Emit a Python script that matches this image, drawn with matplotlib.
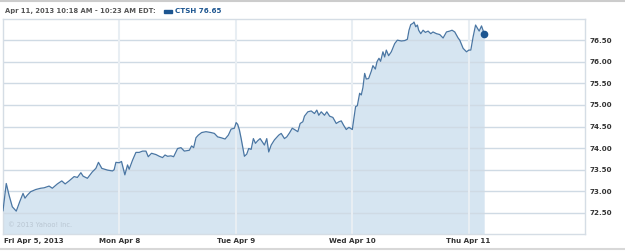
import matplotlib
matplotlib.use("Agg")
import matplotlib.pyplot as plt
import matplotlib.transforms as mtransforms

# CTSH intraday prices, Fri Apr 5 - Thu Apr 11 2013
# t = trading days since Fri open (each session = 1.0)
t = [0.000, 0.028, 0.052, 0.080, 0.114, 0.144, 0.172, 0.189, 0.209, 0.238,
     0.281, 0.324, 0.353, 0.396, 0.424, 0.467, 0.505, 0.534, 0.568, 0.611,
     0.639, 0.669, 0.688, 0.725, 0.768, 0.798, 0.820, 0.849, 0.898, 0.941,
     0.955, 0.970, 0.998, 1.018, 1.047, 1.070, 1.084, 1.113, 1.142, 1.170,
     1.199, 1.228, 1.248, 1.276, 1.314, 1.343, 1.371, 1.392, 1.414, 1.443,
     1.466, 1.500, 1.529, 1.558, 1.601, 1.620, 1.638, 1.658, 1.678, 1.707,
     1.744, 1.787, 1.816, 1.844, 1.873, 1.908, 1.936, 1.960, 1.988, 2.003,
     2.016, 2.031, 2.046, 2.074, 2.094, 2.111, 2.132, 2.151, 2.169, 2.188,
     2.209, 2.226, 2.246, 2.266, 2.283, 2.304, 2.332, 2.369, 2.390, 2.418,
     2.438, 2.461, 2.485, 2.504, 2.533, 2.553, 2.576, 2.590, 2.619, 2.648,
     2.676, 2.696, 2.713, 2.734, 2.762, 2.782, 2.806, 2.834, 2.863, 2.886,
     2.906, 2.926, 2.949, 2.972, 3.001, 3.015, 3.029, 3.044, 3.064, 3.078,
     3.092, 3.107, 3.121, 3.141, 3.164, 3.178, 3.199, 3.213, 3.230, 3.244,
     3.264, 3.279, 3.293, 3.313, 3.336, 3.365, 3.388, 3.423, 3.451, 3.474,
     3.488, 3.503, 3.522, 3.531, 3.546, 3.560, 3.571, 3.589, 3.609, 3.629,
     3.652, 3.675, 3.694, 3.724, 3.752, 3.781, 3.810, 3.838, 3.858, 3.881,
     3.910, 3.924, 3.953, 3.982, 4.002, 4.019, 4.039, 4.060, 4.077, 4.091,
     4.111, 4.134]
price = [72.55, 73.18, 72.91, 72.64, 72.54, 72.76, 72.95, 72.84, 72.91, 72.99,
         73.04, 73.07, 73.08, 73.12, 73.07, 73.17, 73.24, 73.17, 73.24, 73.34,
         73.32, 73.43, 73.35, 73.30, 73.45, 73.53, 73.67, 73.53, 73.49, 73.47,
         73.50, 73.67, 73.66, 73.69, 73.38, 73.61, 73.51, 73.72, 73.90, 73.90,
         73.93, 73.93, 73.80, 73.88, 73.85, 73.81, 73.78, 73.84, 73.81, 73.82,
         73.80, 73.99, 74.01, 73.93, 73.95, 74.05, 74.01, 74.24, 74.30, 74.36,
         74.38, 74.36, 74.34, 74.26, 74.24, 74.21, 74.30, 74.44, 74.46, 74.59,
         74.55, 74.42, 74.22, 73.81, 73.86, 73.99, 73.97, 74.22, 74.11, 74.17,
         74.22, 74.15, 74.07, 74.22, 73.91, 74.07, 74.19, 74.30, 74.34, 74.22,
         74.26, 74.35, 74.46, 74.43, 74.38, 74.57, 74.61, 74.74, 74.84, 74.86,
         74.80, 74.88, 74.76, 74.84, 74.76, 74.84, 74.74, 74.71, 74.57, 74.61,
         74.63, 74.53, 74.43, 74.48, 74.43, 74.69, 74.96, 74.98, 75.27, 75.23,
         75.40, 75.73, 75.60, 75.61, 75.78, 75.91, 75.83, 76.00, 76.08, 76.01,
         76.23, 76.11, 76.27, 76.14, 76.23, 76.42, 76.50, 76.48, 76.49, 76.52,
         76.73, 76.86, 76.89, 76.92, 76.81, 76.85, 76.73, 76.65, 76.73, 76.68,
         76.71, 76.65, 76.69, 76.65, 76.63, 76.55, 76.69, 76.71, 76.73, 76.69,
         76.55, 76.50, 76.31, 76.23, 76.27, 76.27, 76.58, 76.85, 76.77, 76.71,
         76.83, 76.65]

day_pos = [0, 1, 2, 3, 4]
day_labels = ["Fri Apr 5, 2013", "Mon Apr 8", "Tue Apr 9", "Wed Apr 10", "Thu Apr 11"]
y_ticks = [72.5, 73.0, 73.5, 74.0, 74.5, 75.0, 75.5, 76.0, 76.5]

header = "Apr 11, 2013 10:18 AM - 10:23 AM EDT:"
legend_label = "CTSH 76.65"

line_color = "#4a76a3"
fill_color = "#d6e5f1"
dot_color = "#1c5590"
text_color = "#333333"
fs = 5.1

plt.rcParams['font.family'] = ['DejaVu Sans']

W, H = 625, 252
fig = plt.figure(figsize=(W / 100, H / 100), dpi=100)
ax = fig.add_axes([3 / W, (H - 234) / H, (585 - 3) / W, (234 - 19) / H])

ax.fill_between(t, price, 72.0, color=fill_color, lw=0, zorder=1)
ax.plot(t, price, color=line_color, lw=0.9, zorder=3)
ax.plot(t[-1], price[-1], 'o', color=dot_color, ms=4.5, zorder=4)

ax.set_xlim(0, 5)
ax.set_ylim(72.01, 76.99)

# grid
for y in y_ticks:
    ax.axhline(y, color="#cfdae4", lw=1.0, zorder=2)
for x in day_pos[1:]:
    ax.axvline(x, color="#e8eef3", lw=1.5, zorder=2)

ax.yaxis.tick_right()
ax.set_yticks(y_ticks)
ax.set_yticklabels(["%.2f" % v for v in y_ticks])
ax.tick_params(axis='y', length=0, pad=3, labelsize=fs, labelcolor=text_color)
for lab in ax.get_yticklabels():
    lab.set_fontweight('bold')

ax.set_xticks([])
trans = mtransforms.blended_transform_factory(ax.transData, fig.transFigure)
for i, (x, lab) in enumerate(zip(day_pos, day_labels)):
    ax.text(x + (0.005 if i == 0 else 0), (H - 241) / H, lab, transform=trans,
            ha='left' if i == 0 else 'center', va='center', fontsize=fs,
            fontweight='bold', color=text_color, clip_on=False)

for s in ax.spines.values():
    s.set_color("#d5dde5")
    s.set_linewidth(1.0)

ax.text(0.008, 0.03, "\u00a9 2013 Yahoo! Inc.", transform=ax.transAxes,
        fontsize=4.8, color="#b9c6d2", va='bottom', ha='left')

# header
fig.text(5 / W, (H - 11) / H, header, fontsize=4.9, fontweight='bold',
         color="#555555", va='center', ha='left')
fig.patches.append(plt.Rectangle((164 / W, (H - 12.5) / H), 8 / W, 3 / H,
                                 transform=fig.transFigure, color=dot_color))
fig.text(175 / W, (H - 11) / H, legend_label, fontsize=fs, fontweight='bold',
         color=dot_color, va='center', ha='left')

# frame lines of the widget
fig.add_artist(plt.Line2D([0, 1], [(H - 0.5) / H] * 2, color="#cccccc", lw=1.5))
fig.add_artist(plt.Line2D([0, 1], [(H - 249) / H] * 2, color="#d8d8d8", lw=1.5))

fig.savefig("out.png", dpi=100)
